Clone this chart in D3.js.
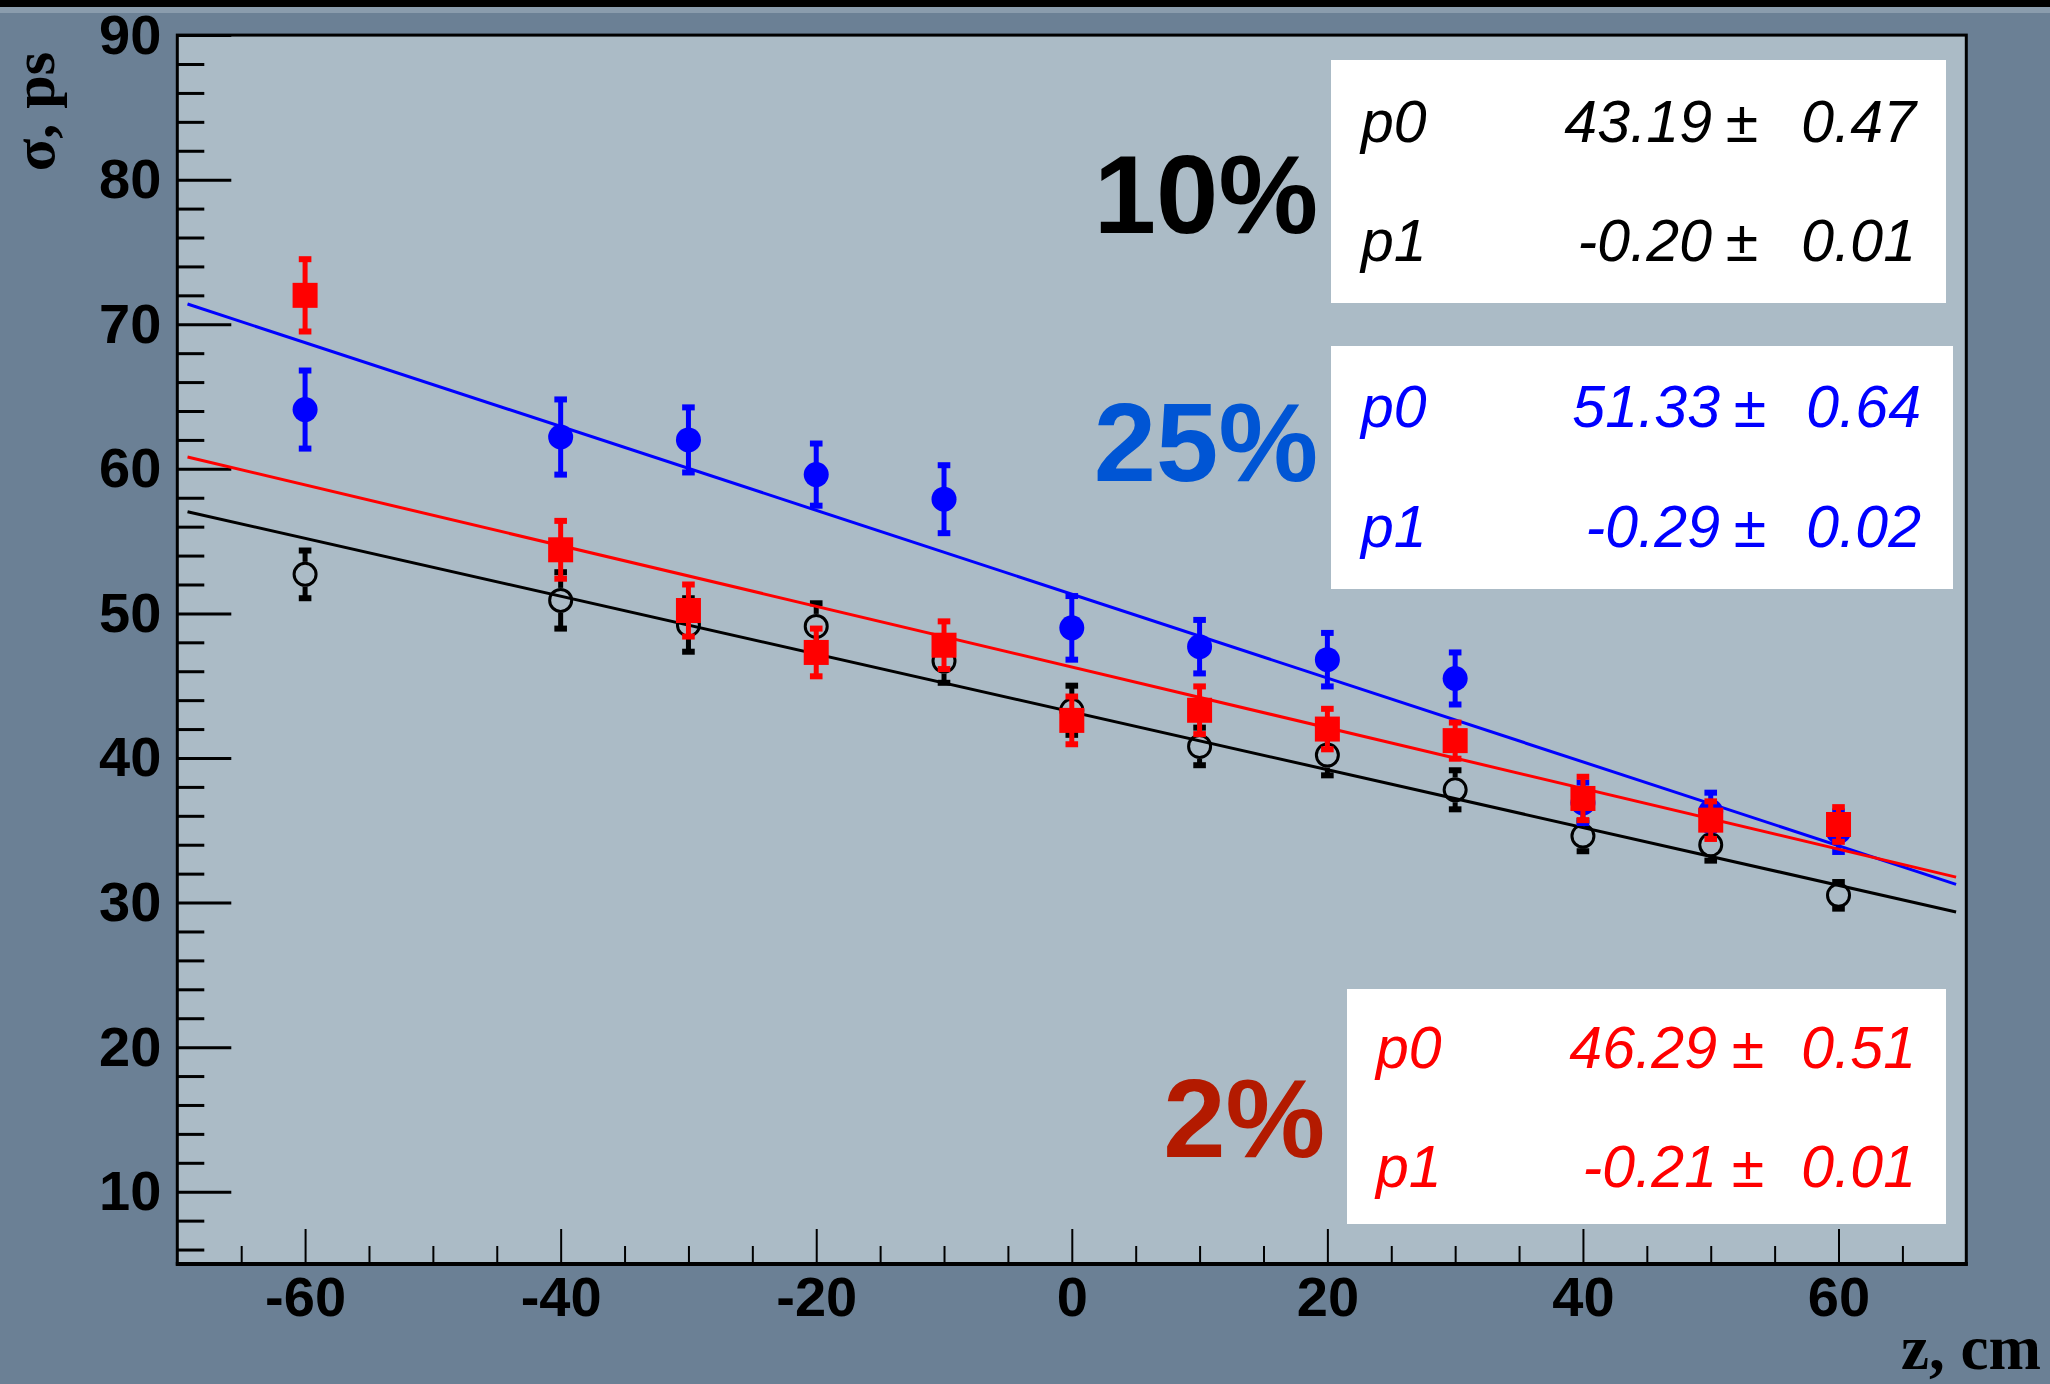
<!DOCTYPE html>
<html>
<head>
<meta charset="utf-8">
<script src="https://d3js.org/d3.v7.min.js"></script>
<style>
  body {margin: 0; background: #6b8095;}
  .axis text {font-family: "Liberation Sans", Arial, sans-serif; font-weight: bold; font-size: 56px; fill: #000;}
  .axis .domain {display: none;}
  .stat {font-family: "Liberation Sans", Arial, sans-serif; font-style: italic; font-size: 59px;}
  .tag {font-family: "Liberation Sans", Arial, sans-serif; font-weight: bold; font-size: 112px;}
  .title {font-family: "Liberation Serif", "Times New Roman", serif; font-weight: bold; font-size: 63px;}
</style>
</head>
<body>
<svg id="chart" width="2050" height="1384"></svg>
<script>
// values
var zPos = [-60, -40, -30, -20, -10, 0, 10, 20, 30, 40, 50, 60];

var sig10 = [52.7, 50.9, 49.2, 49.1, 46.7, 43.3, 40.8, 40.2, 37.8, 34.6, 34.0, 30.5];
var err10 = [1.65, 1.95, 1.85, 1.6, 1.5, 1.7, 1.3, 1.4, 1.35, 1.05, 1.1, 0.92];

var sig25 = [64.1, 62.2, 62.0, 59.6, 57.9, 49.0, 47.7, 46.8, 45.5, 36.9, 36.3, 34.9];
var err25 = [2.7, 2.6, 2.25, 2.15, 2.35, 2.2, 1.85, 1.85, 1.8, 1.4, 1.3, 1.4];

var sig2 = [72.0, 54.4, 50.2, 47.3, 47.8, 42.6, 43.3, 42.0, 41.2, 37.2, 35.7, 35.4];
var err2 = [2.5, 2.0, 1.8, 1.65, 1.65, 1.65, 1.65, 1.4, 1.25, 1.5, 1.3, 1.2];

// fit results p0 + p1*z
var fit10 = [43.19, -0.20];
var fit25 = [51.33, -0.29];
var fit2 = [46.29, -0.21];

var statNames = ["p0", "p1"];
var stat10 = [["43.19", "0.47"], ["-0.20", "0.01"]];
var stat25 = [["51.33", "0.64"], ["-0.29", "0.02"]];
var stat2 = [["46.29", "0.51"], ["-0.21", "0.01"]];

var yMajor = [10, 20, 30, 40, 50, 60, 70, 80, 90];
var xMajor = [-60, -40, -20, 0, 20, 40, 60];

var svg = d3.select("#chart");

var x = d3.scaleLinear().domain([-70, 70]).range([177.3, 1966.3]);
var y = d3.scaleLinear().domain([5, 90]).range([1264, 35.1]);

// canvas
svg.append("rect").attr("width", 2050).attr("height", 1384).attr("fill", "#6b8095");
svg.append("rect").attr("width", 2050).attr("height", 13).attr("fill", "#8a9cad");
svg.append("rect").attr("width", 2050).attr("height", 7).attr("fill", "#000");

svg.append("rect")
    .attr("x", x(-70)).attr("y", y(90))
    .attr("width", x(70) - x(-70)).attr("height", y(5) - y(90))
    .attr("fill", "#abbbc6")
    .attr("stroke", "#000")
    .attr("stroke-width", 3);

// axes
var yMinor = d3.range(6, 90, 2).filter(function(v) { return v % 10 != 0; });
var xMinor = d3.range(-65, 70, 5).filter(function(v) { return v % 20 != 0; });
var plain = function(d) { return String(d); };

svg.append("g")
    .attr("class", "axis")
    .attr("transform", "translate(" + x(-70) + ",0)")
    .call(d3.axisLeft(y).tickValues(yMajor).tickSize(-54).tickPadding(16).tickFormat(plain))
    .selectAll("line").attr("stroke-width", 3);

svg.append("g")
    .attr("class", "axis")
    .attr("transform", "translate(" + x(-70) + ",0)")
    .call(d3.axisLeft(y).tickValues(yMinor).tickSize(-27).tickFormat(""))
    .selectAll("line").attr("stroke-width", 3);

svg.append("g")
    .attr("class", "axis")
    .attr("transform", "translate(0," + y(5) + ")")
    .call(d3.axisBottom(x).tickValues(xMajor).tickSize(-35).tickPadding(12).tickFormat(plain))
    .selectAll("line").attr("stroke-width", 2);

svg.append("g")
    .attr("class", "axis")
    .attr("transform", "translate(0," + y(5) + ")")
    .call(d3.axisBottom(x).tickValues(xMinor).tickSize(-18).tickFormat(""))
    .selectAll("line").attr("stroke-width", 2);

svg.append("line")
    .attr("x1", x(-70) - 1.5).attr("x2", x(70) + 1.5)
    .attr("y1", y(5)).attr("y2", y(5))
    .attr("stroke", "#000").attr("stroke-width", 4);

// axis titles
svg.append("text")
    .attr("class", "title")
    .attr("transform", "translate(54,52) rotate(-90)")
    .attr("text-anchor", "end")
    .style("font-size", "60px")
    .text("σ, ps");

svg.append("text")
    .attr("class", "title")
    .attr("x", 2041).attr("y", 1369)
    .attr("text-anchor", "end")
    .text("z, cm");

// one graph: fit line, error bars, markers
function drawGraph(vals, errs, fit, color, marker) {
    var pts = zPos.map(function(z, i) { return {z: z, v: vals[i], e: errs[i]}; });
    var g = svg.append("g");
    var zr = [-69.2, 69.2];

    g.append("line")
        .attr("x1", x(zr[0])).attr("y1", y(fit[0] + fit[1] * zr[0]))
        .attr("x2", x(zr[1])).attr("y2", y(fit[0] + fit[1] * zr[1]))
        .attr("stroke", color).attr("stroke-width", 3);

    // open markers keep the bar outside the circle
    var gap = marker == "open" ? 12.5 : 0;
    var p = g.selectAll(".pt").data(pts).enter().append("g");

    p.append("line")
        .attr("x1", function(d) { return x(d.z); }).attr("x2", function(d) { return x(d.z); })
        .attr("y1", function(d) { return y(d.v + d.e); })
        .attr("y2", function(d) { return Math.max(y(d.v) - gap, y(d.v + d.e)); })
        .attr("stroke", color).attr("stroke-width", 5);
    p.append("line")
        .attr("x1", function(d) { return x(d.z); }).attr("x2", function(d) { return x(d.z); })
        .attr("y1", function(d) { return y(d.v - d.e); })
        .attr("y2", function(d) { return Math.min(y(d.v) + gap, y(d.v - d.e)); })
        .attr("stroke", color).attr("stroke-width", 5);
    [1, -1].forEach(function(s) {
        p.append("rect")
            .attr("x", function(d) { return x(d.z) - 6.3; })
            .attr("y", function(d) { return y(d.v + s * d.e) - 3; })
            .attr("width", 12.6).attr("height", 6)
            .attr("fill", color);
    });

    if (marker == "square") {
        p.append("rect")
            .attr("x", function(d) { return x(d.z) - 12.5; })
            .attr("y", function(d) { return y(d.v) - 12.5; })
            .attr("width", 25).attr("height", 25)
            .attr("fill", color);
    } else if (marker == "open") {
        p.append("circle")
            .attr("cx", function(d) { return x(d.z); })
            .attr("cy", function(d) { return y(d.v); })
            .attr("r", 11)
            .attr("fill", "none")
            .attr("stroke", color).attr("stroke-width", 3);
    } else {
        p.append("circle")
            .attr("cx", function(d) { return x(d.z); })
            .attr("cy", function(d) { return y(d.v); })
            .attr("r", 12.5)
            .attr("fill", color);
    }
}

drawGraph(sig10, err10, fit10, "#000", "open");
drawGraph(sig25, err25, fit25, "#0000ff", "filled");
drawGraph(sig2, err2, fit2, "#ff0000", "square");

// fit parameter boxes
function statBox(box, rows, color, nameX, valEnd, pmX, errEnd, base) {
    svg.append("rect")
        .attr("x", box[0]).attr("y", box[1])
        .attr("width", box[2] - box[0]).attr("height", box[3] - box[1])
        .attr("fill", "#fff");
    rows.forEach(function(r, i) {
        var t = svg.append("g").attr("class", "stat").attr("fill", color);
        t.append("text").attr("x", nameX).attr("y", base[i]).text(statNames[i]);
        t.append("text").attr("x", valEnd).attr("y", base[i]).attr("text-anchor", "end").text(r[0]);
        t.append("text").attr("x", pmX).attr("y", base[i]).attr("text-anchor", "middle").text("±");
        t.append("text").attr("x", errEnd).attr("y", base[i]).attr("text-anchor", "end").text(r[1]);
    });
}

statBox([1331, 60, 1946, 303], stat10, "#000", 1361, 1712, 1742, 1916, [142, 261]);
statBox([1331, 346, 1953, 589], stat25, "#0000ff", 1361, 1720, 1750, 1921, [427, 547]);
statBox([1347, 989, 1946, 1224], stat2, "#ff0000", 1376, 1717, 1748, 1916, [1068, 1187]);

// big labels
svg.append("text").attr("class", "tag").attr("x", 1318).attr("y", 233)
    .attr("text-anchor", "end").attr("fill", "#000").text("10%");
svg.append("text").attr("class", "tag").attr("x", 1318).attr("y", 481)
    .attr("text-anchor", "end").attr("fill", "#0055d4").text("25%");
svg.append("text").attr("class", "tag").attr("x", 1325).attr("y", 1157)
    .attr("text-anchor", "end").attr("fill", "#b31a00").text("2%");
</script>
</body>
</html>
